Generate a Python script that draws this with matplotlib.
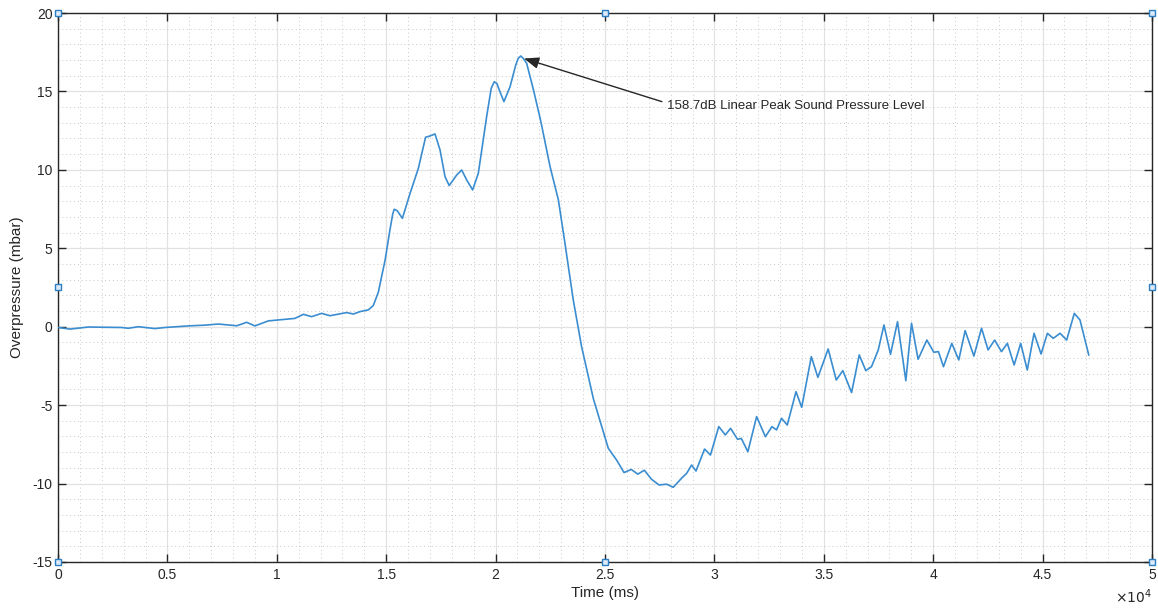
import matplotlib
matplotlib.use("Agg")
import matplotlib.pyplot as plt
from matplotlib.ticker import MultipleLocator, FuncFormatter

# ---- data ----
time_ms = [0, 550, 1390, 2910, 3215, 3670, 4430, 4890, 5960, 6720, 7330, 8170, 8620, 9000,
           9610, 10830, 11210, 11590, 12050, 12430, 13190, 13500, 13800, 14180, 14410, 14640,
           14950, 15170, 15300, 15370, 15500, 15740, 16090, 16470, 16800, 17000, 17230, 17460, 17690,
           17880, 18220, 18450, 18680, 18950, 19210, 19590, 19800, 19940, 20060, 20170, 20380, 20660, 20920,
           21030, 21150, 21270, 21420, 21730, 22050, 22490, 22870, 23170, 23550, 23930, 24470, 24850, 25150,
           25530, 25870, 26200, 26500, 26800, 27120, 27470, 27820, 28120, 28500, 28730, 28960,
           29160, 29550, 29820, 30200, 30500, 30740, 31060, 31230, 31530, 31930, 32330, 32630,
           32840, 33070, 33330, 33730, 33990, 34430, 34730, 35200, 35570, 35870, 36270, 36620,
           36920, 37180, 37490, 37750, 38050, 38370, 38750, 39010, 39310, 39710, 40030, 40240,
           40470, 40850, 41170, 41460, 41860, 42210, 42510, 42810, 43120, 43390, 43700, 44000,
           44300, 44610, 44930, 45220, 45490, 45800, 46100, 46450, 46710, 47110]
overpressure = [-0.05, -0.15, -0.02, -0.05, -0.1, 0.0, -0.12, -0.05, 0.05, 0.1, 0.17, 0.06, 0.28, 0.05,
                0.37, 0.53, 0.79, 0.64, 0.85, 0.7, 0.9, 0.81, 0.96, 1.07, 1.35, 2.2,
                4.25, 6.17, 7.2, 7.49, 7.4, 6.91, 8.5, 10.1, 12.08, 12.16, 12.29, 11.27, 9.56,
                9.0, 9.67, 9.99, 9.35, 8.72, 9.78, 13.39, 15.2, 15.62, 15.5, 15.09, 14.35, 15.3, 16.68,
                17.1, 17.26, 17.1, 16.79, 15.1, 13.2, 10.2, 8.08, 5.32, 1.7, -1.27, -4.6, -6.37, -7.75,
                -8.5, -9.3, -9.1, -9.4, -9.15, -9.72, -10.09, -10.04, -10.24, -9.66, -9.35, -8.82,
                -9.2, -7.8, -8.18, -6.37, -6.9, -6.48, -7.18, -7.12, -7.97, -5.73, -7.01, -6.37,
                -6.58, -5.84, -6.27, -4.14, -5.14, -1.91, -3.23, -1.42, -3.4, -2.8, -4.2, -1.8,
                -2.8, -2.55, -1.48, 0.11, -1.76, 0.32, -3.44, 0.22, -2.08, -0.85, -1.63, -1.59,
                -2.55, -1.06, -2.12, -0.25, -1.87, -0.1, -1.48, -0.85, -1.59, -1.06, -2.44, -1.06,
                -2.76, -0.42, -1.74, -0.42, -0.74, -0.42, -0.85, 0.85, 0.43, -1.8]

peak_xy = (21300, 17.1)
label_xy = (27600, 14.35)
annotation_text = "158.7dB Linear Peak Sound Pressure Level"
handle_x = [0, 25000, 50000, 0, 50000, 0, 25000, 50000]
handle_y = [20, 20, 20, 2.5, 2.5, -15, -15, -15]

plt.rcParams['font.family'] = ['Liberation Sans', 'DejaVu Sans']
dark = '#262626'

fig = plt.figure(figsize=(11.58, 6.08), dpi=100)
ax = fig.add_axes([0.0501, 0.0757, 0.9447, 0.9029])

ax.plot(time_ms, overpressure, color='#3a8dd0', lw=1.2, zorder=3)

ax.set_xlim(0, 50000)
ax.set_ylim(-15, 20)
ax.xaxis.set_major_locator(MultipleLocator(5000))
ax.xaxis.set_minor_locator(MultipleLocator(1000))
ax.yaxis.set_major_locator(MultipleLocator(5))
ax.yaxis.set_minor_locator(MultipleLocator(1))
ax.xaxis.set_major_formatter(FuncFormatter(lambda v, p: ('%g' % (v / 1e4))))
ax.yaxis.set_major_formatter(FuncFormatter(lambda v, p: ('%g' % v)))

ax.grid(True, which='major', color='#e2e2e2', lw=0.9, ls='-', zorder=0)
ax.grid(True, which='minor', color='#c8c8c8', lw=0.7, ls=(0, (1, 3)), zorder=0)
ax.set_axisbelow(True)

ax.tick_params(which='major', direction='in', length=6, width=1, color=dark,
               top=True, right=True, labelsize=10, labelcolor=dark, pad=4)
ax.tick_params(which='minor', length=0, top=True, right=True)
for s in ax.spines.values():
    s.set_color(dark)
    s.set_linewidth(1.0)

ax.set_xlabel('Time (ms)', fontsize=11, color=dark, labelpad=3)
ax.set_ylabel('Overpressure (mbar)', fontsize=11, color=dark, labelpad=6)
fig.text(0.9948, 0.004, r'$\times10^{4}$', fontsize=10, color=dark,
         ha='right', va='bottom')

ax.annotate('', xy=peak_xy, xytext=label_xy,
            arrowprops=dict(arrowstyle='-|>,head_length=0.9,head_width=0.35',
                            color=dark, lw=1.0, shrinkA=0, shrinkB=0), zorder=5)
ax.text(label_xy[0] + 250, label_xy[1] - 0.3, annotation_text, fontsize=9.5,
        color=dark, ha='left', va='center', zorder=5)

ax.plot(handle_x, handle_y, ls='none', marker='s', ms=5, mfc='#dcebf7',
        mec='#2a7fc4', mew=1.0, clip_on=False, zorder=6)

fig.savefig('out.png', dpi=100)
